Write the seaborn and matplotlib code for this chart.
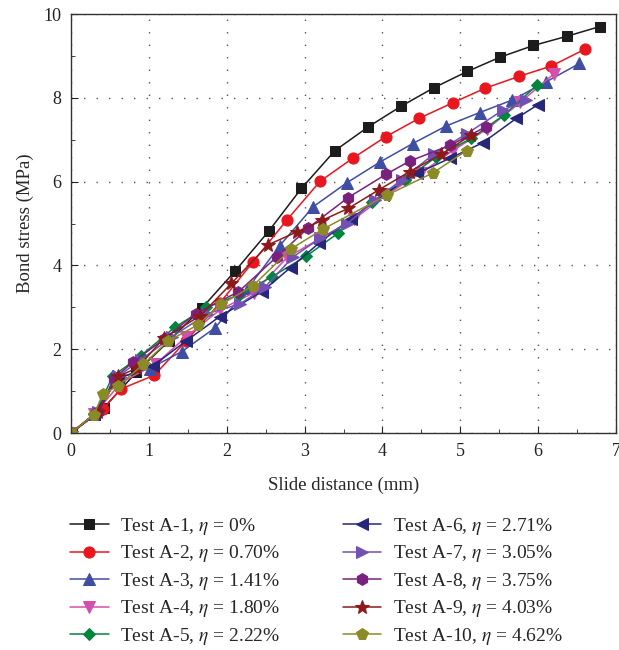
import pandas as pd
import seaborn as sns
import matplotlib.pyplot as plt

# slide distance (mm) / bond stress (MPa)
a1_x = [0, 0.42, 0.84, 1.26, 1.68, 2.11, 2.54, 2.96, 3.39, 3.82, 4.24, 4.66, 5.09, 5.51, 5.94, 6.37, 6.79]
a1_y = [0, 0.6, 1.45, 2.2, 2.98, 3.87, 4.82, 5.84, 6.74, 7.31, 7.80, 8.24, 8.63, 8.97, 9.25, 9.47, 9.70]
a2_x = [0, 0.41, 0.64, 1.07, 1.48, 1.91, 2.34, 2.77, 3.20, 3.62, 4.04, 4.47, 4.90, 5.32, 5.75, 6.17, 6.60]
a2_y = [0, 0.57, 1.05, 1.38, 2.2, 3.1, 4.09, 5.08, 6.01, 6.56, 7.07, 7.51, 7.88, 8.23, 8.51, 8.76, 9.16]
a3_x = [0, 0.3, 0.58, 1.01, 1.42, 1.85, 2.27, 2.68, 3.11, 3.54, 3.97, 4.39, 4.82, 5.25, 5.67, 6.10, 6.53]
a3_y = [0, 0.45, 1.3, 1.54, 1.94, 2.51, 3.45, 4.47, 5.40, 5.97, 6.47, 6.91, 7.33, 7.65, 7.95, 8.38, 8.82]
a4_x = [0, 0.3, 0.64, 1.09, 1.48, 1.92, 2.35, 2.78, 3.21, 3.63, 4.06, 4.49, 4.91, 5.34, 5.77, 6.20]
a4_y = [0, 0.45, 1.2, 1.65, 2.3, 2.95, 3.35, 4.2, 4.65, 5.1, 5.7, 6.2, 6.75, 7.25, 7.89, 8.57]
a5_x = [0, 0.3, 0.54, 0.9, 1.33, 1.74, 2.16, 2.58, 3.02, 3.43, 3.86, 4.29, 4.69, 5.14, 5.56, 5.99]
a5_y = [0, 0.45, 1.36, 1.85, 2.52, 3.0, 3.3, 3.73, 4.22, 4.77, 5.51, 6.04, 6.59, 7.03, 7.59, 8.31]
a6_x = [0, 0.3, 0.6, 1.05, 1.48, 1.91, 2.45, 2.82, 3.19, 3.60, 4.01, 4.45, 4.87, 5.29, 5.72, 6.0]
a6_y = [0, 0.45, 1.3, 1.6, 2.2, 2.78, 3.37, 3.95, 4.54, 5.12, 5.68, 6.2, 6.56, 6.93, 7.51, 7.84]
a7_x = [0, 0.35, 0.6, 0.9, 1.3, 1.75, 2.17, 2.49, 2.85, 3.2, 3.55, 3.9, 4.25, 4.66, 5.08, 5.55, 5.85]
a7_y = [0, 0.5, 1.35, 1.75, 2.3, 2.85, 3.08, 3.48, 4.2, 4.65, 5.0, 5.55, 6.05, 6.66, 7.14, 7.71, 7.95]
a8_x = [0, 0.35, 0.55, 0.8, 1.2, 1.6, 2.15, 2.64, 3.05, 3.56, 4.05, 4.35, 4.87, 5.33]
a8_y = [0, 0.5, 1.3, 1.7, 2.25, 2.85, 3.37, 4.2, 4.9, 5.62, 6.18, 6.49, 6.87, 7.31]
a9_x = [0, 0.35, 0.6, 0.85, 1.19, 1.66, 2.06, 2.53, 2.9, 3.23, 3.56, 3.95, 4.35, 4.75, 5.14]
a9_y = [0, 0.5, 1.35, 1.55, 2.26, 2.8, 3.57, 4.49, 4.8, 5.08, 5.36, 5.8, 6.24, 6.65, 7.11]
a10_x = [0, 0.29, 0.41, 0.61, 0.93, 1.25, 1.63, 1.93, 2.34, 2.83, 3.24, 4.06, 4.65, 5.08]
a10_y = [0, 0.43, 0.93, 1.13, 1.64, 2.2, 2.58, 3.07, 3.52, 4.4, 4.87, 5.68, 6.21, 6.74]

tests = ["A-1", "A-2", "A-3", "A-4", "A-5", "A-6", "A-7", "A-8", "A-9", "A-10"]
eta = ["0%", "0.70%", "1.41%", "1.80%", "2.22%", "2.71%", "3.05%", "3.75%", "4.03%", "4.62%"]
xs = [a1_x, a2_x, a3_x, a4_x, a5_x, a6_x, a7_x, a8_x, a9_x, a10_x]
ys = [a1_y, a2_y, a3_y, a4_y, a5_y, a6_y, a7_y, a8_y, a9_y, a10_y]

colors = ["#1c1c1c", "#e8161e", "#3f4ea3", "#d24fae", "#00853f",
          "#26267a", "#7250b4", "#7a2180", "#8c1a1c", "#8a8a26"]
markers = ["s", "o", "^", "v", "D", "<", ">", "h", "*", "p"]
msizes = [7, 8, 8, 8, 6.5, 8, 8, 8.5, 10, 8.5]

sns.set_style("ticks")
plt.rcParams["font.family"] = ["Liberation Serif", "DejaVu Serif"]
plt.rcParams["mathtext.fontset"] = "stix"

fig = plt.figure(figsize=(6.19, 6.5), dpi=100)
ax = fig.add_axes([0.1147, 0.3338, 0.8805, 0.6446])

for i in range(len(tests)):
    df = pd.DataFrame({"x": xs[i], "y": ys[i]})
    sns.lineplot(data=df, x="x", y="y", ax=ax, sort=False, estimator=None,
                 color=colors[i], marker=markers[i], markersize=msizes[i],
                 markeredgecolor=colors[i], linewidth=1.1,
                 label="Test " + tests[i] + r", $\eta$ = " + eta[i])

ax.set_xlim(0, 7)
ax.set_ylim(0, 10)
ax.set_xticks(range(0, 8))
ax.set_yticks(range(0, 11, 2))
ax.set_xticks([i + 0.5 for i in range(7)], minor=True)
ax.set_yticks(range(1, 10, 2), minor=True)
ax.tick_params(which="both", direction="in", labelsize=13, colors="#222222")
ax.tick_params(which="major", length=5, pad=7)
ax.tick_params(which="minor", length=3)
ax.grid(True, which="major", linestyle=(0, (1, 8)), color="#555555", linewidth=1.0)
for s in ax.spines.values():
    s.set_color("#333333")
    s.set_linewidth(1.0)
    s.set_visible(True)

ax.set_xlabel("Slide distance (mm)", fontsize=13.5, labelpad=12)
ax.set_ylabel("Bond stress (MPa)", fontsize=13.5, labelpad=7)

handles, labels = ax.get_legend_handles_labels()
ax.get_legend().remove()
fig.legend(handles, labels, loc="upper left", bbox_to_anchor=(0.1, 0.218),
           ncol=2, frameon=False, fontsize=14, handlelength=2.0,
           handletextpad=0.6, columnspacing=3.2, labelspacing=0.33,
           borderaxespad=0)

fig.savefig("out.png", dpi=100)
